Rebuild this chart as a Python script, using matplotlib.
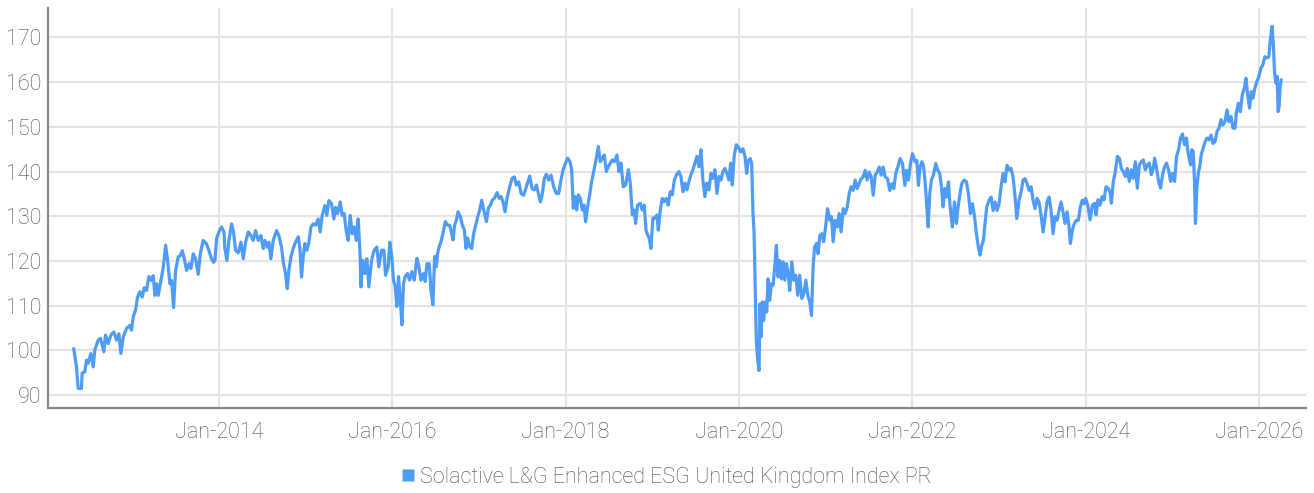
import matplotlib
matplotlib.use("Agg")
import matplotlib.pyplot as plt
from matplotlib.lines import Line2D
import numpy as np
import pandas as pd

# ---- data: decimal-year dates and index levels ----
t_2012 = [2012.327, 2012.358, 2012.377, 2012.415, 2012.423, 2012.454, 2012.473, 2012.492, 2012.523, 2012.550,
          2012.569, 2012.608, 2012.635, 2012.673, 2012.692, 2012.723, 2012.754, 2012.788, 2012.819, 2012.846,
          2012.869, 2012.896, 2012.935, 2012.973, 2012.992, 2013.011, 2013.038, 2013.061, 2013.088, 2013.115,
          2013.138, 2013.165, 2013.192, 2013.223, 2013.242, 2013.261, 2013.281, 2013.300, 2013.331, 2013.358,
          2013.385, 2013.408, 2013.435, 2013.454, 2013.477, 2013.500, 2013.531, 2013.554, 2013.577, 2013.600,
          2013.627, 2013.654, 2013.677, 2013.704, 2013.731, 2013.761, 2013.785, 2013.819, 2013.858, 2013.885,
          2013.915, 2013.938]
v_2012 = [100.3, 96.3, 91.5, 91.5, 94.9, 95.2, 97.8, 97.1, 99.3, 96.3,
          100.1, 102.3, 102.7, 99.7, 103.4, 101.5, 103.4, 104.1, 102.3, 103.7,
          99.3, 103.0, 104.9, 105.6, 104.5, 107.5, 109.0, 111.9, 113.1, 111.9,
          114.0, 113.4, 116.5, 115.6, 116.7, 112.3, 114.9, 112.3, 115.6, 118.6,
          123.5, 120.1, 114.9, 115.6, 109.6, 117.9, 120.9, 121.2, 122.3, 120.5,
          117.9, 119.4, 118.3, 121.6, 120.5, 117.0, 121.6, 124.6, 123.8, 122.3,
          120.5, 119.7]

t_2014 = [2013.954, 2013.973, 2014.000, 2014.031, 2014.058, 2014.069, 2014.092, 2014.116, 2014.146, 2014.169,
          2014.192, 2014.223, 2014.254, 2014.281, 2014.308, 2014.339, 2014.369, 2014.396, 2014.423, 2014.454,
          2014.485, 2014.512, 2014.531, 2014.558, 2014.577, 2014.600, 2014.627, 2014.666, 2014.692, 2014.723,
          2014.746, 2014.769, 2014.789, 2014.808, 2014.831, 2014.858, 2014.885, 2014.916, 2014.935, 2014.954,
          2014.973, 2014.992, 2015.016, 2015.039, 2015.062, 2015.089, 2015.116, 2015.146, 2015.169, 2015.192,
          2015.223, 2015.246, 2015.269, 2015.300, 2015.327, 2015.346, 2015.369, 2015.400, 2015.423, 2015.446,
          2015.469, 2015.492, 2015.516, 2015.539, 2015.562, 2015.585, 2015.608, 2015.631, 2015.639, 2015.662,
          2015.685, 2015.708, 2015.731, 2015.762, 2015.792, 2015.823, 2015.846, 2015.877, 2015.904, 2015.923,
          2015.954, 2015.973]
v_2014 = [120.1, 125.0, 126.5, 127.6, 126.5, 122.8, 120.1, 124.6, 128.3, 126.5,
          122.4, 121.8, 124.2, 120.5, 124.2, 126.5, 125.7, 124.6, 126.8, 124.6,
          125.7, 122.8, 124.6, 123.1, 124.2, 120.5, 124.6, 126.8, 125.7, 123.1,
          119.4, 117.2, 113.8, 117.9, 120.9, 122.8, 124.2, 125.4, 122.8, 116.4,
          120.9, 123.9, 122.4, 124.2, 127.6, 128.3, 128.0, 129.4, 126.5, 130.2,
          132.4, 130.2, 133.5, 132.8, 129.4, 132.0, 130.6, 133.2, 130.2, 130.6,
          126.8, 124.6, 130.2, 126.1, 127.6, 124.6, 129.4, 120.9, 114.2, 120.1,
          117.2, 120.5, 114.2, 120.1, 122.4, 123.1, 118.7, 122.4, 122.4, 116.8,
          118.7, 124.2]

t_2016 = [2015.996, 2016.015, 2016.035, 2016.054, 2016.073, 2016.092, 2016.112, 2016.131, 2016.150, 2016.177,
          2016.200, 2016.227, 2016.254, 2016.285, 2016.308, 2016.331, 2016.362, 2016.381, 2016.400, 2016.427,
          2016.446, 2016.469, 2016.489, 2016.508, 2016.523, 2016.542, 2016.562, 2016.585, 2016.612, 2016.639,
          2016.662, 2016.681, 2016.700, 2016.719, 2016.739, 2016.758, 2016.785, 2016.808, 2016.831, 2016.850,
          2016.869, 2016.892, 2016.915, 2016.939, 2016.962, 2016.985, 2017.008, 2017.031, 2017.054, 2017.085,
          2017.108, 2017.131, 2017.154, 2017.177, 2017.208, 2017.231, 2017.254, 2017.277, 2017.300, 2017.323,
          2017.354, 2017.381, 2017.408, 2017.431, 2017.458, 2017.485, 2017.515, 2017.539, 2017.562, 2017.585,
          2017.612, 2017.639, 2017.662, 2017.685, 2017.708, 2017.731, 2017.754, 2017.777, 2017.804, 2017.831,
          2017.862, 2017.892, 2017.919, 2017.946, 2017.969, 2017.996]
v_2016 = [121.0, 115.7, 114.3, 109.8, 116.5, 112.0, 105.7, 115.0, 116.5, 117.2,
          115.7, 117.6, 115.7, 120.6, 118.7, 115.7, 117.2, 115.4, 119.4, 119.4,
          113.5, 110.2, 121.0, 118.7, 121.7, 123.2, 124.3, 126.2, 128.8, 128.0,
          128.0, 126.5, 124.7, 128.0, 129.2, 131.0, 129.9, 128.0, 126.9, 122.8,
          125.1, 123.2, 122.8, 126.2, 128.0, 129.9, 131.4, 133.6, 131.4, 128.8,
          131.8, 132.5, 133.6, 134.0, 135.3, 134.0, 134.4, 133.2, 131.0, 134.0,
          136.6, 138.5, 138.8, 137.0, 137.7, 135.1, 134.7, 136.2, 137.7, 139.0,
          136.2, 135.9, 137.0, 135.1, 133.2, 135.1, 138.5, 139.4, 138.1, 139.2,
          136.6, 135.1, 135.1, 138.1, 140.3, 141.8]

t_2018 = [2018.023, 2018.050, 2018.069, 2018.088, 2018.107, 2018.127, 2018.146, 2018.169, 2018.192, 2018.211,
          2018.230, 2018.254, 2018.277, 2018.300, 2018.323, 2018.346, 2018.377, 2018.400, 2018.423, 2018.446,
          2018.469, 2018.492, 2018.515, 2018.538, 2018.561, 2018.592, 2018.615, 2018.638, 2018.665, 2018.692,
          2018.723, 2018.746, 2018.769, 2018.792, 2018.807, 2018.830, 2018.861, 2018.884, 2018.907, 2018.927,
          2018.946, 2018.965, 2018.984, 2019.007, 2019.030, 2019.054, 2019.069, 2019.092, 2019.115, 2019.138,
          2019.161, 2019.184, 2019.207, 2019.230, 2019.254, 2019.280, 2019.307, 2019.330, 2019.354, 2019.377,
          2019.400, 2019.423, 2019.446, 2019.469, 2019.492, 2019.515, 2019.538, 2019.561, 2019.584, 2019.607,
          2019.630, 2019.654, 2019.677, 2019.700, 2019.723, 2019.746, 2019.769, 2019.792, 2019.815, 2019.838,
          2019.861, 2019.884, 2019.904, 2019.923, 2019.946, 2019.969]
v_2018 = [143.0, 142.2, 140.4, 131.8, 134.4, 131.4, 134.8, 134.0, 131.4, 132.5,
          128.8, 132.2, 134.8, 137.8, 140.0, 142.2, 145.6, 142.2, 143.0, 143.7,
          140.0, 141.1, 141.9, 142.6, 142.2, 143.7, 140.0, 141.9, 136.6, 137.0,
          140.4, 137.4, 130.3, 131.4, 128.4, 132.5, 132.9, 131.4, 132.5, 126.9,
          125.8, 125.1, 122.8, 129.6, 129.6, 130.3, 126.9, 131.4, 134.0, 133.3,
          134.0, 132.5, 135.5, 134.8, 138.1, 139.3, 140.0, 138.9, 135.5, 137.4,
          135.9, 137.8, 139.3, 140.4, 141.9, 143.4, 141.1, 144.9, 138.1, 134.4,
          137.4, 135.9, 139.6, 138.5, 140.4, 135.1, 138.9, 138.1, 140.0, 140.7,
          139.6, 138.1, 141.9, 137.0, 143.7, 146.0]

t_2020 = [2019.993, 2020.020, 2020.047, 2020.070, 2020.089, 2020.108, 2020.131, 2020.147, 2020.162, 2020.174,
          2020.185, 2020.200, 2020.216, 2020.231, 2020.243, 2020.254, 2020.270, 2020.285, 2020.300, 2020.320,
          2020.335, 2020.354, 2020.374, 2020.393, 2020.412, 2020.431, 2020.450, 2020.470, 2020.489, 2020.508,
          2020.527, 2020.547, 2020.566, 2020.585, 2020.608, 2020.631, 2020.654, 2020.677, 2020.700, 2020.724,
          2020.747, 2020.770, 2020.793, 2020.816, 2020.835, 2020.854, 2020.870, 2020.893, 2020.912, 2020.931,
          2020.954, 2020.974, 2020.993, 2021.020, 2021.047, 2021.066, 2021.085, 2021.108, 2021.131, 2021.154,
          2021.177, 2021.200, 2021.224, 2021.247, 2021.270, 2021.293, 2021.316, 2021.339, 2021.362, 2021.385,
          2021.408, 2021.431, 2021.454, 2021.477, 2021.500, 2021.524, 2021.547, 2021.570, 2021.593, 2021.616,
          2021.639, 2021.662, 2021.685, 2021.712, 2021.739, 2021.762, 2021.785, 2021.808, 2021.831, 2021.858,
          2021.885, 2021.912, 2021.931, 2021.954, 2021.977, 2022.000]
v_2020 = [145.5, 144.4, 145.1, 143.3, 139.6, 142.5, 142.9, 141.8, 130.6, 126.5,
          115.7, 102.2, 97.8, 95.5, 110.4, 103.0, 110.8, 106.7, 110.8, 108.6,
          116.0, 111.2, 114.9, 114.6, 118.7, 123.5, 116.4, 120.1, 116.0, 119.8,
          115.7, 119.4, 117.2, 113.4, 119.8, 115.7, 116.8, 112.3, 116.8, 111.6,
          112.7, 115.7, 112.3, 110.8, 107.8, 118.7, 123.1, 123.9, 121.6, 125.7,
          126.1, 124.3, 126.9, 131.7, 129.1, 129.9, 124.3, 129.1, 127.6, 130.6,
          126.5, 131.7, 130.6, 132.1, 135.1, 136.6, 135.8, 138.1, 136.2, 137.3,
          138.4, 138.8, 140.3, 138.1, 139.9, 138.8, 134.7, 139.2, 139.9, 141.0,
          139.2, 141.0, 138.8, 138.4, 135.8, 137.3, 136.2, 139.6, 141.0, 142.9,
          141.8, 136.9, 140.3, 138.1, 141.8, 144.0]

t_2022 = [2022.031, 2022.050, 2022.069, 2022.088, 2022.108, 2022.127, 2022.146, 2022.161, 2022.181, 2022.200,
          2022.219, 2022.242, 2022.269, 2022.292, 2022.315, 2022.335, 2022.354, 2022.373, 2022.392, 2022.415,
          2022.435, 2022.461, 2022.485, 2022.508, 2022.527, 2022.546, 2022.569, 2022.596, 2022.623, 2022.646,
          2022.669, 2022.692, 2022.715, 2022.738, 2022.761, 2022.781, 2022.800, 2022.819, 2022.838, 2022.858,
          2022.885, 2022.908, 2022.931, 2022.954, 2022.977, 2023.000, 2023.023, 2023.046, 2023.069, 2023.092,
          2023.115, 2023.138, 2023.161, 2023.185, 2023.204, 2023.231, 2023.254, 2023.277, 2023.300, 2023.323,
          2023.346, 2023.369, 2023.392, 2023.415, 2023.438, 2023.461, 2023.485, 2023.508, 2023.531, 2023.554,
          2023.577, 2023.600, 2023.623, 2023.646, 2023.669, 2023.692, 2023.715, 2023.738, 2023.761, 2023.785,
          2023.808, 2023.823, 2023.846, 2023.869, 2023.892, 2023.915, 2023.938, 2023.961, 2023.980]
v_2022 = [142.2, 142.5, 136.9, 141.0, 142.2, 141.4, 137.7, 133.6, 127.6, 135.1,
          138.1, 139.2, 141.8, 140.3, 139.6, 136.6, 132.1, 136.2, 134.3, 137.7,
          132.1, 127.6, 133.2, 128.4, 132.1, 134.7, 137.3, 138.1, 137.7, 135.1,
          130.6, 132.8, 130.2, 126.1, 123.1, 121.3, 123.5, 124.6, 128.4, 132.1,
          133.6, 134.3, 131.3, 133.2, 131.3, 132.8, 136.6, 139.6, 137.7, 141.4,
          140.3, 140.7, 138.8, 134.3, 129.5, 133.6, 135.4, 138.1, 138.4, 137.3,
          135.8, 136.6, 133.6, 131.7, 134.0, 133.2, 130.2, 126.5, 129.9, 133.2,
          134.3, 131.3, 126.1, 129.9, 129.1, 131.3, 133.2, 131.0, 128.4, 131.0,
          127.6, 123.9, 126.9, 128.4, 129.1, 129.1, 132.1, 133.6, 132.8]

t_2024 = [2024.000, 2024.027, 2024.050, 2024.077, 2024.103, 2024.119, 2024.142, 2024.165, 2024.188, 2024.211,
          2024.234, 2024.257, 2024.280, 2024.295, 2024.318, 2024.341, 2024.364, 2024.387, 2024.410, 2024.433,
          2024.456, 2024.479, 2024.502, 2024.525, 2024.548, 2024.571, 2024.594, 2024.617, 2024.640, 2024.663,
          2024.686, 2024.709, 2024.732, 2024.755, 2024.778, 2024.793, 2024.816, 2024.839, 2024.862, 2024.885,
          2024.908, 2024.931, 2024.954, 2024.977, 2025.000, 2025.023, 2025.046, 2025.069, 2025.092, 2025.115,
          2025.138, 2025.161, 2025.176, 2025.192, 2025.207, 2025.222, 2025.238, 2025.253, 2025.264, 2025.280,
          2025.299, 2025.314, 2025.330, 2025.352, 2025.375, 2025.398, 2025.421, 2025.444, 2025.467, 2025.490,
          2025.513, 2025.536, 2025.559, 2025.582, 2025.605, 2025.628, 2025.651, 2025.674, 2025.697, 2025.720,
          2025.736, 2025.759, 2025.782, 2025.805, 2025.828, 2025.847, 2025.866, 2025.889, 2025.908, 2025.927,
          2025.950, 2025.973, 2025.996, 2026.019, 2026.042, 2026.065, 2026.088, 2026.111, 2026.126, 2026.149,
          2026.165, 2026.176, 2026.192, 2026.207, 2026.218, 2026.230, 2026.241, 2026.253]
v_2024 = [134.0, 132.2, 129.2, 132.5, 132.9, 130.3, 133.7, 132.5, 134.4, 133.7,
          136.6, 136.3, 135.5, 132.9, 137.8, 140.0, 143.4, 143.0, 140.7, 140.0,
          138.9, 140.7, 137.8, 140.4, 138.5, 142.2, 136.3, 141.5, 142.2, 142.6,
          140.4, 141.5, 141.9, 139.3, 140.7, 143.0, 140.7, 137.8, 136.3, 139.3,
          141.1, 141.9, 140.4, 137.8, 139.6, 137.8, 143.4, 144.9, 147.5, 148.4,
          146.0, 147.5, 144.5, 143.0, 141.5, 144.9, 144.5, 137.8, 128.4, 136.3,
          140.0, 141.1, 143.7, 145.2, 146.7, 147.5, 147.1, 148.2, 146.3, 146.7,
          149.0, 149.7, 151.6, 150.4, 151.2, 153.8, 151.2, 152.3, 149.7, 149.7,
          153.1, 155.3, 153.4, 157.2, 158.7, 160.9, 157.2, 154.2, 157.9, 156.4,
          158.7, 160.1, 161.3, 163.1, 163.9, 165.7, 165.4, 165.7, 169.1, 172.5,
          167.6, 162.4, 159.8, 161.3, 153.4, 154.6, 158.7, 160.5]

series_label = "Solactive L&G Enhanced ESG United Kingdom Index PR"
y_ticks = [90, 100, 110, 120, 130, 140, 150, 160, 170]
x_tick_years = [2014, 2016, 2018, 2020, 2022, 2024, 2026]
x_tick_labels = ["Jan-2014", "Jan-2016", "Jan-2018", "Jan-2020", "Jan-2022", "Jan-2024", "Jan-2026"]


def dec_to_datetime(y):
    yr = int(np.floor(y))
    start = pd.Timestamp(year=yr, month=1, day=1)
    end = pd.Timestamp(year=yr + 1, month=1, day=1)
    return start + (end - start) * (y - yr)


years = t_2012 + t_2014 + t_2016 + t_2018 + t_2020 + t_2022 + t_2024
values = v_2012 + v_2014 + v_2016 + v_2018 + v_2020 + v_2022 + v_2024
dates = [dec_to_datetime(y) for y in years]

LINE = "#4f9cf8"
TXT = "#4d4d4d"
GRID = "#e4e4e4"
SPINE = "#8a8a8a"
FONT = ["Roboto", "DejaVu Sans"]
FS = 15.5

plt.rcParams["font.family"] = FONT

fig = plt.figure(figsize=(13.14, 4.93), dpi=100)
ax = fig.add_axes([48 / 1314, 85 / 493, (1306 - 48) / 1314, (408 - 8) / 493])

ax.plot(dates, values, color=LINE, lw=2.3, solid_joinstyle="round", zorder=3)

ax.set_ylim(87.1, 176.6)
ax.set_xlim(dec_to_datetime(2012.03), dec_to_datetime(2026.54))
ax.set_yticks(y_ticks)
ax.set_xticks([pd.Timestamp(year=y, month=1, day=1) for y in x_tick_years])
ax.set_xticklabels(x_tick_labels)

ax.grid(True, color=GRID, lw=1.6, zorder=0)
ax.set_axisbelow(True)
for s in ["top", "right"]:
    ax.spines[s].set_visible(False)
for s in ["left", "bottom"]:
    ax.spines[s].set_color(SPINE)
    ax.spines[s].set_linewidth(1.6)

ax.tick_params(axis="both", length=0, labelsize=FS, labelcolor=TXT)
ax.tick_params(axis="x", pad=10)
ax.tick_params(axis="y", pad=5)
for lab in ax.get_xticklabels() + ax.get_yticklabels():
    lab.set_fontweight("light")

handle = Line2D([], [], linestyle="none", marker="s", markersize=8.5,
                markerfacecolor=LINE, markeredgecolor="none")
leg = fig.legend([handle], [series_label], loc="center", bbox_to_anchor=(0.507, 0.032),
                 frameon=False, handlelength=0.6, handletextpad=0.25,
                 prop={"family": FONT, "size": FS, "weight": "light"})
for t in leg.get_texts():
    t.set_color(TXT)

fig.savefig("out.png", dpi=100)
